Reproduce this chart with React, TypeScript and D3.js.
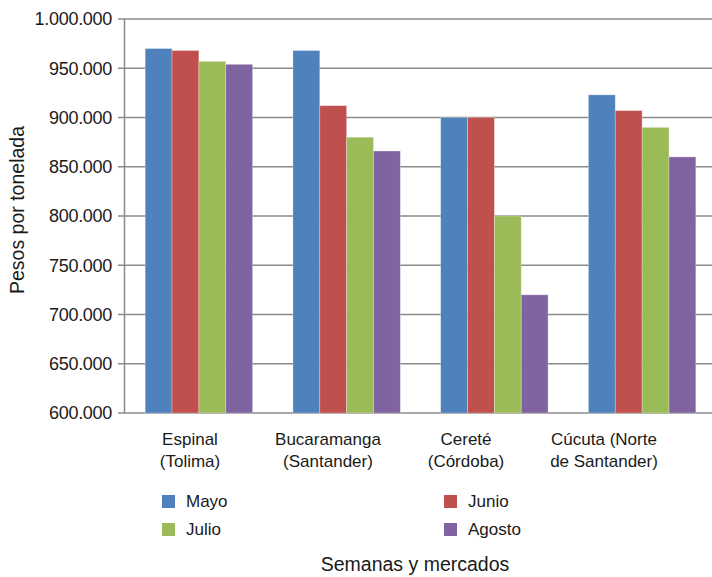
import * as d3 from 'd3';

const categories = ['Espinal (Tolima)', 'Bucaramanga (Santander)', 'Cereté (Córdoba)', 'Cúcuta (Norte de Santander)'];
const categoryLines = [
  ['Espinal', '(Tolima)'],
  ['Bucaramanga', '(Santander)'],
  ['Cereté', '(Córdoba)'],
  ['Cúcuta (Norte', 'de Santander)'],
];
const seriesNames = ['Mayo', 'Junio', 'Julio', 'Agosto'];
const seriesColors = ['#4F81BD', '#C0504D', '#9BBB59', '#8064A2'];

// pesos por tonelada, one array per month
const mayo = [970000, 968000, 900000, 923000];
const junio = [968000, 912000, 900000, 907000];
const julio = [957000, 880000, 800000, 890000];
const agosto = [954000, 866000, 720000, 860000];
const seriesValues = [mayo, junio, julio, agosto];

const yTicks = [600000, 650000, 700000, 750000, 800000, 850000, 900000, 950000, 1000000];

const W = 712;
const H = 577;
const plot = { left: 124.5, right: 716.5, top: 19, bottom: 413 };
const font = '"Liberation Sans", Arial, sans-serif';

const fmt = d3.formatLocale({ decimal: ',', thousands: '.', grouping: [3], currency: ['$', ''] }).format(',');

export default function App() {
  const y = d3.scaleLinear().domain([600000, 1000000]).range([plot.bottom, plot.top]);
  const x = d3.scaleBand<string>()
    .domain(categories)
    .range([plot.left, plot.right])
    .paddingInner(0.273)
    .paddingOuter(0.14);
  const xs = d3.scaleBand<string>().domain(seriesNames).range([0, x.bandwidth()]);
  // category labels sit a bit left of the bar groups in the original
  const xl = d3.scaleBand<string>().domain(categories).range([121, 673]);

  return (
    <div style={{ position: 'absolute', left: 0, top: 0 }}>
      <svg width={W} height={H} style={{ display: 'block', background: '#fff' }} fontFamily={font}>
        {/* gridlines */}
        {yTicks.map((t) => (
          <g key={t}>
            <line x1={118} x2={W} y1={y(t)} y2={y(t)} stroke="#8a8a8a" strokeWidth={1.5} />
            <text x={112} y={y(t)} dy="0.35em" textAnchor="end" fontSize={18} fill="#1a1a1a" letterSpacing={-0.3}>
              {fmt(t)}
            </text>
          </g>
        ))}
        <line x1={plot.left} x2={plot.left} y1={plot.top} y2={plot.bottom} stroke="#8a8a8a" strokeWidth={1.5} />

        {/* bars */}
        {categories.map((c, ci) => (
          <g key={c} transform={`translate(${x(c)},0)`}>
            {seriesNames.map((s, si) => {
              const v = seriesValues[si][ci];
              return (
                <rect
                  key={s}
                  x={xs(s)}
                  y={y(v)}
                  width={xs.bandwidth()}
                  height={plot.bottom - y(v)}
                  fill={seriesColors[si]}
                  stroke="#ffffff"
                  strokeOpacity={0.35}
                  strokeWidth={0.8}
                />
              );
            })}
          </g>
        ))}

        {/* category labels */}
        {categories.map((c, ci) => (
          <text key={c} x={(xl(c) as number) + xl.bandwidth() / 2} textAnchor="middle" fontSize={17} fill="#1a1a1a">
            <tspan x={(xl(c) as number) + xl.bandwidth() / 2} y={445}>{categoryLines[ci][0]}</tspan>
            <tspan x={(xl(c) as number) + xl.bandwidth() / 2} y={467}>{categoryLines[ci][1]}</tspan>
          </text>
        ))}

        {/* legend */}
        {seriesNames.map((s, i) => {
          const lx = i % 2 === 0 ? 162 : 444;
          const ly = i < 2 ? 495 : 523;
          return (
            <g key={s}>
              <rect x={lx} y={ly} width={13} height={13} fill={seriesColors[i]} />
              <text x={lx + 24} y={ly + 12} fontSize={17} fill="#1a1a1a">{s}</text>
            </g>
          );
        })}

        {/* axis titles */}
        <text transform="translate(24,210) rotate(-90)" textAnchor="middle" fontSize={19.5} fill="#1a1a1a">
          Pesos por tonelada
        </text>
        <text x={415} y={571} textAnchor="middle" fontSize={19.5} fill="#1a1a1a">
          Semanas y mercados
        </text>
      </svg>
    </div>
  );
}
